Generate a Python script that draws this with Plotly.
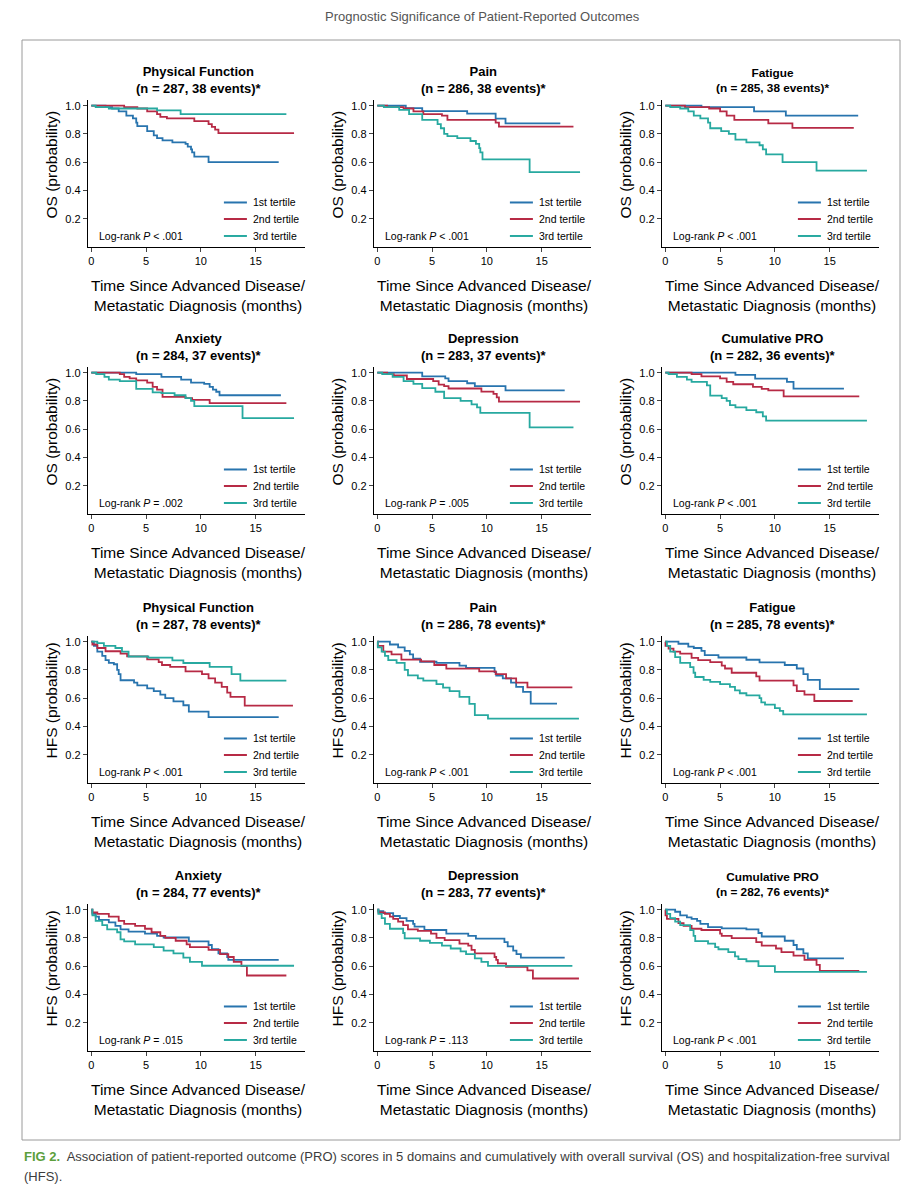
import plotly.graph_objects as go

# ------------------------------------------------------------------ data
X_TICKS = [0, 5, 10, 15]
Y_TICKS = [0.2, 0.4, 0.6, 0.8, 1.0]
Y_TICK_LABELS = ["0.2", "0.4", "0.6", "0.8", "1.0"]
TERTILES = ["1st tertile", "2nd tertile", "3rd tertile"]
DOMAINS = ["Physical Function", "Pain", "Fatigue", "Anxiety", "Depression", "Cumulative PRO",
           "Physical Function", "Pain", "Fatigue", "Anxiety", "Depression", "Cumulative PRO"]
OUTCOMES = ["OS"] * 6 + ["HFS"] * 6
N_PATIENTS = [287, 286, 285, 284, 283, 282, 287, 286, 285, 284, 283, 282]
N_EVENTS = [38, 38, 38, 37, 37, 36, 78, 78, 78, 77, 77, 76]
LOGRANK_P = ["< .001", "< .001", "< .001", "= .002", "= .005", "< .001",
             "< .001", "< .001", "< .001", "= .015", "= .113", "< .001"]

# --- OS: Physical Function
OS_PF_T1_TIME = [0, 1.3, 1.9, 2.5, 3.2, 3.8, 4.1, 4.2, 5.1, 5.7, 6.0, 6.5, 7.4, 8.6, 8.8, 9.1, 9.2, 9.4, 10.7, 17.1]
OS_PF_T1_SURV = [1, .99, .98, .96, .93, .91, .88, .855, .82, .79, .77, .755, .74, .73, .71, .69, .67, .64, .60, .60]
OS_PF_T2_TIME = [0, 3.0, 4.2, 5.1, 6.0, 6.3, 6.9, 9.4, 10.7, 11.0, 11.3, 11.6, 18.5]
OS_PF_T2_SURV = [1, .99, .98, .96, .94, .92, .91, .89, .87, .85, .83, .805, .805]
OS_PF_T3_TIME = [0, 0.4, 1.6, 6.0, 8.15, 17.8]
OS_PF_T3_SURV = [1, .99, .98, .967, .94, .94]
# --- OS: Pain
OS_PA_T1_TIME = [0, 2.6, 4.1, 8.2, 10.8, 11.7, 16.7]
OS_PA_T1_SURV = [1, .983, .962, .943, .908, .875, .875]
OS_PA_T2_TIME = [0, 0.9, 2.4, 3.3, 4.2, 5.9, 6.4, 10.8, 11.1, 17.9]
OS_PA_T2_SURV = [1, .99, .98, .96, .94, .93, .90, .88, .852, .852]
OS_PA_T3_TIME = [0, 0.6, 2.0, 2.9, 4.1, 5.5, 5.8, 6.1, 6.4, 7.3, 8.5, 9.0, 9.3, 9.4, 9.6, 13.9, 18.5]
OS_PA_T3_SURV = [1, .99, .97, .94, .90, .87, .84, .80, .785, .77, .75, .73, .70, .67, .62, .53, .53]
# --- OS: Fatigue
OS_FA_T1_TIME = [0, 3.3, 8.1, 11.0, 17.6]
OS_FA_T1_SURV = [1, .99, .96, .93, .93]
OS_FA_T2_TIME = [0, 1.8, 4.0, 5.0, 5.6, 6.3, 9.4, 11.6, 17.2]
OS_FA_T2_SURV = [1, .99, .98, .96, .93, .90, .875, .843, .843]
OS_FA_T3_TIME = [0, .45, 1.36, 2.1, 2.6, 3.2, 3.9, 4.1, 5.1, 5.8, 6.4, 7.4, 8.6, 8.9, 9.2, 10.7, 13.8, 18.4]
OS_FA_T3_SURV = [1, .99, .98, .96, .93, .91, .88, .84, .82, .80, .76, .74, .72, .69, .655, .60, .54, .54]
# --- OS: Anxiety
OS_AN_T1_TIME = [0, 4.1, 6.4, 8.2, 9.1, 10.3, 10.8, 11.1, 11.4, 11.7, 17.3]
OS_AN_T1_SURV = [1, .99, .97, .95, .93, .92, .90, .88, .865, .84, .84]
OS_AN_T2_TIME = [0, 2.6, 3.0, 3.5, 4.1, 5.1, 5.6, 6.0, 6.5, 8.6, 9.2, 10.8, 17.8]
OS_AN_T2_SURV = [1, .99, .97, .96, .945, .93, .90, .88, .828, .82, .807, .784, .784]
OS_AN_T3_TIME = [0, .45, 1.2, 1.6, 2.6, 4.1, 5.6, 6.4, 7.6, 8.6, 9.1, 9.4, 13.8, 18.5]
OS_AN_T3_SURV = [1, .99, .97, .95, .94, .885, .86, .855, .84, .82, .80, .763, .678, .678]
# --- OS: Depression
OS_DE_T1_TIME = [0, 4.1, 6.2, 6.5, 8.2, 8.9, 11.7, 17.1]
OS_DE_T1_SURV = [1, .973, .96, .94, .925, .905, .874, .874]
OS_DE_T2_TIME = [0, 0.9, 1.5, 2.7, 5.1, 5.6, 6.1, 6.5, 9.5, 10.6, 10.9, 11.1, 18.5]
OS_DE_T2_SURV = [1, .99, .98, .955, .94, .915, .905, .888, .866, .85, .825, .795, .795]
OS_DE_T3_TIME = [0, .45, 1.4, 2.4, 3.3, 4.1, 5.3, 6.1, 7.6, 8.6, 9.1, 9.4, 13.9, 17.9]
OS_DE_T3_SURV = [1, .99, .97, .94, .92, .89, .865, .82, .80, .775, .755, .716, .613, .613]
# --- OS: Cumulative PRO
OS_CU_T1_TIME = [0, 6.4, 8.2, 11.1, 11.7, 16.3]
OS_CU_T1_SURV = [1, .984, .958, .935, .887, .887]
OS_CU_T2_TIME = [0, 2.4, 3.3, 5.0, 5.6, 6.2, 8.0, 8.8, 9.4, 10.8, 17.7]
OS_CU_T2_SURV = [1, .99, .973, .96, .935, .918, .90, .885, .875, .832, .832]
OS_CU_T3_TIME = [0, .3, 1.06, 1.97, 2.4, 3.8, 4.1, 5.15, 5.6, 5.9, 6.4, 7.4, 8.3, 8.9, 9.2, 18.4]
OS_CU_T3_SURV = [1, .99, .97, .95, .935, .91, .838, .82, .80, .77, .755, .735, .72, .69, .66, .66]

# --- HFS: Physical Function
HFS_PF_T1_TIME = [0, .24, .55, 1.0, 1.3, 1.6, 2.06, 2.36, 2.5, 2.67, 3.9, 4.2, 5.1, 5.7, 6.3, 6.75, 7.5, 8.4, 8.9, 10.7, 17.1]
HFS_PF_T1_SURV = [1, .97, .93, .90, .87, .85, .84, .80, .77, .727, .71, .69, .67, .65, .625, .60, .578, .55, .505, .466, .466]
HFS_PF_T2_TIME = [0, .1, .55, 1.3, 2.67, 3.27, 5.1, 6.15, 6.45, 7.2, 8.6, 10.1, 10.7, 11.3, 11.9, 12.4, 12.7, 14.0, 18.4]
HFS_PF_T2_SURV = [1, .98, .955, .932, .915, .896, .875, .855, .835, .822, .79, .77, .74, .71, .68, .64, .609, .548, .548]
HFS_PF_T3_TIME = [0, .55, 1.15, 2.2, 2.8, 3.4, 5.2, 7.4, 8.4, 10.8, 12.8, 13.6, 17.8]
HFS_PF_T3_SURV = [1, .99, .97, .955, .93, .895, .887, .867, .849, .821, .77, .724, .724]
# --- HFS: Pain
HFS_PA_T1_TIME = [0, 1.15, 1.9, 2.5, 2.97, 3.27, 3.9, 5.4, 7.5, 8.1, 10.7, 10.85, 11.45, 12.2, 12.67, 13.3, 14.0, 16.4]
HFS_PA_T1_SURV = [1, .98, .96, .935, .91, .88, .858, .85, .83, .814, .785, .76, .74, .71, .68, .645, .562, .562]
HFS_PA_T2_TIME = [0, .05, .55, 1.3, 2.2, 4.0, 5.2, 6.3, 9.3, 10.8, 11.75, 12.67, 13.7, 17.8]
HFS_PA_T2_SURV = [1, .97, .93, .91, .873, .86, .835, .809, .79, .77, .74, .71, .677, .677]
HFS_PA_T3_TIME = [0, .05, .4, .7, 1.0, 1.76, 2.5, 2.8, 3.7, 4.2, 5.4, 6.0, 6.6, 7.5, 8.4, 8.9, 10.1, 18.4]
HFS_PA_T3_SURV = [1, .96, .93, .90, .87, .85, .80, .762, .74, .724, .70, .675, .65, .609, .56, .48, .455, .455]
# --- HFS: Fatigue
HFS_FA_T1_TIME = [0, 1.2, 2.1, 2.6, 3.3, 3.6, 4.85, 7.4, 8.6, 10.9, 12.0, 12.6, 13.0, 14.1, 17.7]
HFS_FA_T1_SURV = [1, .985, .965, .955, .935, .905, .888, .872, .853, .835, .81, .77, .73, .664, .664]
HFS_FA_T2_TIME = [0, .02, .3, .75, 1.36, 2.4, 3.0, 4.1, 5.15, 5.45, 6.06, 8.3, 8.6, 11.7, 12.0, 12.7, 13.6, 17.1]
HFS_FA_T2_SURV = [1, .97, .95, .93, .915, .885, .87, .855, .83, .81, .78, .755, .724, .69, .65, .625, .58, .58]
HFS_FA_T3_TIME = [0, .15, .45, .9, 1.36, 2.27, 2.58, 2.73, 3.5, 4.1, 5.0, 5.9, 6.36, 6.8, 7.4, 8.6, 8.76, 9.1, 10.0, 10.45, 10.76, 18.4]
HFS_FA_T3_SURV = [1, .97, .93, .89, .85, .82, .78, .75, .73, .715, .70, .68, .655, .635, .62, .60, .57, .555, .53, .51, .485, .485]
# --- HFS: Anxiety
HFS_AN_T1_TIME = [0, .1, .4, .7, 1.6, 2.2, 2.67, 3.4, 4.9, 6.0, 6.6, 8.9, 10.7, 11.0, 11.6, 12.4, 12.5, 17.1]
HFS_AN_T1_SURV = [1, .97, .95, .927, .91, .885, .86, .845, .83, .815, .803, .775, .75, .72, .69, .665, .645, .645]
HFS_AN_T2_TIME = [0, .1, .55, 1.6, 2.5, 3.0, 4.0, 4.9, 5.5, 6.3, 6.75, 7.7, 8.7, 9.0, 10.7, 11.75, 12.5, 13.0, 13.7, 14.2, 17.8]
HFS_AN_T2_SURV = [1, .98, .97, .95, .92, .90, .885, .865, .84, .815, .80, .78, .755, .735, .715, .685, .665, .63, .60, .534, .534]
HFS_AN_T3_TIME = [0, .1, .4, 1.0, 1.45, 2.36, 2.67, 3.0, 4.0, 5.7, 6.6, 7.5, 8.4, 9.0, 10.1, 18.5]
HFS_AN_T3_SURV = [1, .96, .92, .89, .86, .84, .79, .775, .755, .735, .71, .69, .66, .63, .603, .603]
# --- HFS: Depression
HFS_DE_T1_TIME = [0, .1, .55, 1.45, 2.06, 2.67, 3.27, 3.4, 4.3, 6.3, 8.3, 9.0, 11.6, 11.9, 12.4, 12.7, 13.1, 17.1]
HFS_DE_T1_SURV = [1, .99, .975, .955, .94, .92, .90, .88, .856, .83, .815, .795, .77, .74, .71, .685, .661, .661]
HFS_DE_T2_TIME = [0, .1, .7, 1.15, 1.45, 1.9, 2.36, 2.8, 3.7, 4.9, 5.4, 6.15, 7.5, 8.3, 8.6, 8.9, 10.7, 10.85, 11.0, 11.75, 13.7, 14.2, 18.4]
HFS_DE_T2_SURV = [1, .98, .97, .95, .935, .915, .89, .86, .85, .83, .80, .785, .76, .745, .715, .69, .665, .645, .62, .595, .57, .513, .513]
HFS_DE_T3_TIME = [0, .1, .4, .7, 1.15, 2.36, 2.5, 3.9, 4.8, 5.9, 6.7, 7.6, 8.1, 8.9, 9.5, 10.1, 17.8]
HFS_DE_T3_SURV = [1, .97, .94, .90, .865, .835, .797, .78, .765, .745, .725, .705, .685, .655, .63, .602, .602]
# --- HFS: Cumulative PRO
HFS_CU_T1_TIME = [0, .9, 1.36, 1.97, 2.4, 2.9, 3.2, 3.9, 5.15, 7.4, 8.5, 8.8, 10.9, 11.7, 12.0, 12.6, 13.0, 16.3]
HFS_CU_T1_SURV = [1, .985, .96, .945, .935, .92, .90, .877, .868, .86, .835, .81, .78, .75, .72, .69, .655, .655]
HFS_CU_T2_TIME = [0, .02, .15, 1.2, 1.67, 2.4, 3.3, 5.0, 5.15, 6.06, 8.3, 8.8, 10.1, 10.6, 11.7, 12.7, 13.8, 14.1, 17.7]
HFS_CU_T2_SURV = [1, .96, .935, .905, .885, .865, .856, .83, .815, .798, .77, .745, .725, .70, .675, .645, .61, .567, .567]
HFS_CU_T3_TIME = [0, .15, .45, .9, 1.36, 2.27, 2.58, 2.73, 3.9, 4.55, 4.85, 5.75, 6.36, 6.67, 7.4, 8.5, 10.0, 18.4]
HFS_CU_T3_SURV = [1, .97, .94, .915, .89, .855, .815, .778, .76, .735, .72, .70, .67, .65, .635, .60, .56, .56]

PANEL_TIMES = [
    [OS_PF_T1_TIME, OS_PF_T2_TIME, OS_PF_T3_TIME],
    [OS_PA_T1_TIME, OS_PA_T2_TIME, OS_PA_T3_TIME],
    [OS_FA_T1_TIME, OS_FA_T2_TIME, OS_FA_T3_TIME],
    [OS_AN_T1_TIME, OS_AN_T2_TIME, OS_AN_T3_TIME],
    [OS_DE_T1_TIME, OS_DE_T2_TIME, OS_DE_T3_TIME],
    [OS_CU_T1_TIME, OS_CU_T2_TIME, OS_CU_T3_TIME],
    [HFS_PF_T1_TIME, HFS_PF_T2_TIME, HFS_PF_T3_TIME],
    [HFS_PA_T1_TIME, HFS_PA_T2_TIME, HFS_PA_T3_TIME],
    [HFS_FA_T1_TIME, HFS_FA_T2_TIME, HFS_FA_T3_TIME],
    [HFS_AN_T1_TIME, HFS_AN_T2_TIME, HFS_AN_T3_TIME],
    [HFS_DE_T1_TIME, HFS_DE_T2_TIME, HFS_DE_T3_TIME],
    [HFS_CU_T1_TIME, HFS_CU_T2_TIME, HFS_CU_T3_TIME],
]
PANEL_SURVS = [
    [OS_PF_T1_SURV, OS_PF_T2_SURV, OS_PF_T3_SURV],
    [OS_PA_T1_SURV, OS_PA_T2_SURV, OS_PA_T3_SURV],
    [OS_FA_T1_SURV, OS_FA_T2_SURV, OS_FA_T3_SURV],
    [OS_AN_T1_SURV, OS_AN_T2_SURV, OS_AN_T3_SURV],
    [OS_DE_T1_SURV, OS_DE_T2_SURV, OS_DE_T3_SURV],
    [OS_CU_T1_SURV, OS_CU_T2_SURV, OS_CU_T3_SURV],
    [HFS_PF_T1_SURV, HFS_PF_T2_SURV, HFS_PF_T3_SURV],
    [HFS_PA_T1_SURV, HFS_PA_T2_SURV, HFS_PA_T3_SURV],
    [HFS_FA_T1_SURV, HFS_FA_T2_SURV, HFS_FA_T3_SURV],
    [HFS_AN_T1_SURV, HFS_AN_T2_SURV, HFS_AN_T3_SURV],
    [HFS_DE_T1_SURV, HFS_DE_T2_SURV, HFS_DE_T3_SURV],
    [HFS_CU_T1_SURV, HFS_CU_T2_SURV, HFS_CU_T3_SURV],
]

HEADER = "Prognostic Significance of Patient-Reported Outcomes"
CAPTION_1 = ("Association of patient-reported outcome (PRO) scores in 5 domains and cumulatively "
             "with overall survival (OS) and hospitalization-free survival")
CAPTION_2 = "(HFS)."

# ------------------------------------------------------------------ style / layout
PAGE_OFFSET = 8                      # default body margin of the html page
W, H = 922 - 2 * PAGE_OFFSET, 1200 - 2 * PAGE_OFFSET
COLORS = ["#2874ae", "#b72a45", "#27a9a0"]
FONT = "Liberation Sans, Arial, Helvetica, sans-serif"
COL_LEFT = [88, 374, 662]
COL_RIGHT = [305, 591, 879]
ROW_TOP = [100, 367, 636, 904]
ROW_BOTTOM = [247, 514, 783, 1051]
TITLE_SIZES = [13, 13, 11.8, 13, 13, 13, 13, 13, 13, 13, 13, 11.8]
X_RANGE = [-0.3, 19.5]
Y_RANGE = [0, 1.04]


def px(x):
    return (x - PAGE_OFFSET) / W


def py(y):
    return 1 - (y - PAGE_OFFSET) / H


fig = go.Figure()
layout = dict(
    width=W, height=H,
    margin=dict(l=0, r=0, t=0, b=0),
    paper_bgcolor="white", plot_bgcolor="white",
    showlegend=False,
    font=dict(family=FONT, color="black", size=11),
)
annotations = []
shapes = []

for p in range(12):
    r, c = divmod(p, 3)
    sid = "" if p == 0 else str(p + 1)
    xname, yname = "x" + sid, "y" + sid
    for k in range(3):
        fig.add_trace(go.Scatter(
            x=PANEL_TIMES[p][k], y=PANEL_SURVS[p][k], mode="lines",
            line=dict(color=COLORS[k], width=1.8, shape="hv"),
            xaxis=xname, yaxis=yname, name=TERTILES[k], hoverinfo="skip",
        ))
    layout["xaxis" + sid] = dict(
        domain=[px(COL_LEFT[c]), px(COL_RIGHT[c])], anchor=yname,
        range=X_RANGE, tickvals=X_TICKS, ticks="outside", ticklen=4, tickwidth=1,
        showline=True, linecolor="black", linewidth=1.3, showgrid=False, zeroline=False,
        tickfont=dict(size=11, family=FONT, color="black"),
    )
    layout["yaxis" + sid] = dict(
        domain=[py(ROW_BOTTOM[r]), py(ROW_TOP[r])], anchor=xname,
        range=Y_RANGE, tickvals=Y_TICKS, ticktext=Y_TICK_LABELS, ticks="outside",
        ticklen=4, tickwidth=1,
        showline=True, linecolor="black", linewidth=1.3, showgrid=False, zeroline=False,
        tickfont=dict(size=11, family=FONT, color="black"),
    )
    cx = (COL_LEFT[c] + COL_RIGHT[c]) / 2
    # panel title
    annotations.append(dict(
        xref="paper", yref="paper", x=px(cx + 2), y=py(ROW_TOP[r] - 20),
        text="<b>%s</b><br><b>(n = %d, %d events)*</b>" % (DOMAINS[p], N_PATIENTS[p], N_EVENTS[p]),
        showarrow=False, xanchor="center", yanchor="middle",
        font=dict(size=TITLE_SIZES[p], family=FONT, color="black"),
    ))
    # y axis title
    annotations.append(dict(
        xref="paper", yref="paper", x=px(COL_LEFT[c] - 37),
        y=py((ROW_TOP[r] + ROW_BOTTOM[r]) / 2 - 9),
        text="%s (probability)" % OUTCOMES[p], textangle=-90, showarrow=False,
        xanchor="center", yanchor="middle",
        font=dict(size=15.5, family=FONT, color="black"),
    ))
    # x axis title
    annotations.append(dict(
        xref="paper", yref="paper", x=px(cx + 2), y=py(ROW_BOTTOM[r] + 48.5),
        text="Time Since Advanced Disease/<br>Metastatic Diagnosis (months)",
        showarrow=False, xanchor="center", yanchor="middle",
        font=dict(size=15.5, family=FONT, color="black"),
    ))
    # log-rank
    annotations.append(dict(
        xref=xname, yref=yname, x=0.5, y=0.078,
        text="Log-rank <i>P</i> %s" % LOGRANK_P[p], showarrow=False,
        xanchor="left", yanchor="middle",
        font=dict(size=10.5, family=FONT, color="black"),
    ))
    # in-panel legend
    for k, ly in enumerate([0.315, 0.198, 0.078]):
        shapes.append(dict(type="line", xref=xname, yref=yname,
                           x0=12.1, x1=14.2, y0=ly, y1=ly,
                           line=dict(color=COLORS[k], width=2)))
        annotations.append(dict(
            xref=xname, yref=yname, x=14.6, y=ly, text=TERTILES[k], showarrow=False,
            xanchor="left", yanchor="middle",
            font=dict(size=10.5, family=FONT, color="black"),
        ))

# frame
shapes.append(dict(type="rect", xref="paper", yref="paper",
                   x0=px(22), x1=px(900), y0=py(1140), y1=py(40),
                   line=dict(color="#9a9a9a", width=1)))
# header
annotations.append(dict(
    xref="paper", yref="paper", x=px(482), y=py(16), text=HEADER, showarrow=False,
    xanchor="center", yanchor="middle", font=dict(size=13, family=FONT, color="#555555"),
))
# caption
annotations.append(dict(
    xref="paper", yref="paper", x=px(22), y=py(1156),
    text='<span style="color:#5c9f3c"><b>FIG 2.</b></span>  ' + CAPTION_1,
    showarrow=False, xanchor="left", yanchor="middle",
    font=dict(size=13, family=FONT, color="#3c3c3c"),
))
annotations.append(dict(
    xref="paper", yref="paper", x=px(22), y=py(1176), text=CAPTION_2, showarrow=False,
    xanchor="left", yanchor="middle", font=dict(size=13, family=FONT, color="#3c3c3c"),
))

layout["annotations"] = annotations
layout["shapes"] = shapes
fig.update_layout(**layout)
fig.write_html("out.html")
